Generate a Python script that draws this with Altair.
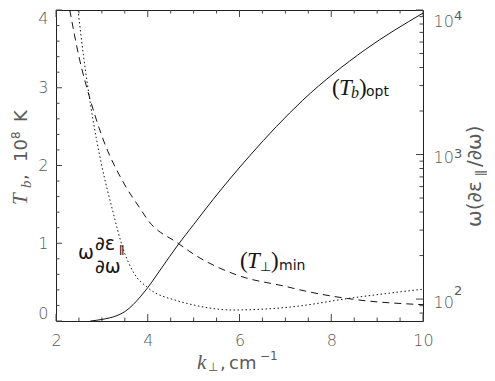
import altair as alt
import pandas as pd

# ---------------- data ----------------
# solid curve (T_b)_opt, left axis (10^8 K)
k_opt = [2.75, 3.0, 3.33, 3.5, 3.68, 3.85, 4.0, 4.3, 4.66, 5.0, 5.42, 6.23, 7.38, 8.74, 10.0]
t_opt = [0.0, 0.02, 0.07, 0.12, 0.21, 0.32, 0.43, 0.68, 0.98, 1.24, 1.56, 2.13, 2.84, 3.49, 3.96]

# dashed curve (T_perp)_min, left axis
k_perp = [2.3, 2.5, 2.75, 3.0, 3.5, 3.83, 4.0, 4.66, 5.0, 5.95, 7.04, 7.32, 8.47, 10.0]
t_perp = [4.0, 3.4, 2.84, 2.38, 1.75, 1.45, 1.30, 1.0, 0.86, 0.59, 0.44, 0.40, 0.28, 0.21]

# dotted curve omega * d eps_par / d omega, right (log) axis
k_eps = [2.48, 2.6, 2.76, 3.0, 3.22, 3.46, 3.7, 4.0, 4.66, 5.0, 5.86, 7.1, 8.47, 10.0]
eps = [10000, 4800, 2140, 830, 427, 224, 151, 120, 97, 91, 84, 88, 102, 117]

x_major = [2, 4, 6, 8, 10]
x_minor = [2.5, 3, 3.5, 4.5, 5, 5.5, 6.5, 7, 7.5, 8.5, 9, 9.5]
y_major = [0, 1, 2, 3, 4]
y_minor = [0.2, 0.4, 0.6, 0.8, 1.2, 1.4, 1.6, 1.8, 2.2, 2.4, 2.6, 2.8, 3.2, 3.4, 3.6, 3.8]
r_major = [100, 1000, 10000]
r_minor = [80, 90, 200, 300, 400, 500, 600, 700, 800, 900,
           2000, 3000, 4000, 5000, 6000, 7000, 8000, 9000]
r_exp = ["2", "3", "4"]

# ---------------- style ----------------
W, H = 367, 311
LINE = "#151515"
TICK = "#444444"
LAB = "#5a5a5a"
SANS = "DejaVu Sans"
SERIF = "Liberation Serif"
PAR = "ǁ"

x_scale = alt.Scale(domain=[2, 10], nice=False, zero=False)
yl_scale = alt.Scale(domain=[0, 4], nice=False, zero=False)
yr_scale = alt.Scale(type="log", domain=[70.5, 10000], nice=False)

x_axis = alt.Axis(values=x_major, ticks=False, domain=False, grid=False, title=None,
                  labelPadding=11, format="d", labelFlush=False)
yl_axis = alt.Axis(values=y_major, ticks=False, domain=False, grid=False, title=None,
                   labelPadding=8, labelFlush=True, format="d")
yr_axis = alt.Axis(orient="right", values=r_major, labelExpr="'10'", ticks=False,
                   domain=False, grid=False, title=None, labelPadding=10,
                   labelFlush=True, labelOffset=3)


def X(f):
    return alt.X(f"{f}:Q", scale=x_scale, axis=x_axis)


def YL(f):
    return alt.Y(f"{f}:Q", scale=yl_scale, axis=yl_axis)


def YR(f):
    return alt.Y(f"{f}:Q", scale=yr_scale, axis=yr_axis)


one = pd.DataFrame({"a": [0]})


def dtxt(x, y, s, size, font=SANS, style="normal", dx=0, dy=0, align="left",
         baseline="alphabetic"):
    df = pd.DataFrame({"x": [x], "y": [y]})
    return alt.Chart(df).mark_text(text=s, fontSize=size, font=font, fontStyle=style,
                                   dx=dx, dy=dy, align=align, baseline=baseline,
                                   color=LINE).encode(x=X("x"), y=YL("y"))


def ptxt(px, py, s, size, font=SANS, style="normal", angle=0, align="left",
         baseline="alphabetic", color=LAB):
    return alt.Chart(one).mark_text(text=s, fontSize=size, font=font, fontStyle=style,
                                    angle=angle, align=align, baseline=baseline,
                                    color=color).encode(x=alt.value(px), y=alt.value(py))


# ---------------- left-axis group ----------------
solid = alt.Chart(pd.DataFrame({"k": k_opt, "t": t_opt})).mark_line(
    color=LINE, strokeWidth=1, interpolate="monotone", clip=True
).encode(x=X("k"), y=YL("t"))

dashed = alt.Chart(pd.DataFrame({"k": k_perp, "t": t_perp})).mark_line(
    color=LINE, strokeWidth=1, strokeDash=[7, 5], interpolate="monotone", clip=True
).encode(x=X("k"), y=YL("t"))


def xticks(vals, ln, top):
    df = pd.DataFrame({"v": vals})
    if top:
        enc = dict(y=alt.value(0), y2=alt.value(ln))
    else:
        enc = dict(y=alt.value(H), y2=alt.value(H - ln))
    return alt.Chart(df).mark_rule(color=TICK, strokeWidth=1).encode(x=X("v"), **enc)


def ylticks(vals, ln):
    df = pd.DataFrame({"v": vals})
    return alt.Chart(df).mark_rule(color=TICK, strokeWidth=1).encode(
        y=YL("v"), x=alt.value(0), x2=alt.value(ln))


def yrticks(vals, ln):
    df = pd.DataFrame({"v": vals})
    return alt.Chart(df).mark_rule(color=TICK, strokeWidth=1).encode(
        y=YR("v"), x=alt.value(W), x2=alt.value(W - ln))


left_layers = [
    xticks(x_major, 7, False), xticks(x_minor, 3.5, False),
    xticks(x_major, 7, True), xticks(x_minor, 3.5, True),
    ylticks(y_major, 6), ylticks(y_minor, 3.5),
    solid, dashed,
    # (T_b)_opt label
    dtxt(8.016, 2.907, "(", 23, SERIF),
    dtxt(8.016, 2.907, "T", 23, SERIF, "italic", dx=7),
    dtxt(8.016, 2.907, "b", 16, SERIF, "italic", dx=19, dy=3),
    dtxt(8.016, 2.907, ")", 23, SERIF, dx=27),
    dtxt(8.016, 2.907, "opt", 14, SANS, dx=34, dy=1),
    # (T_perp)_min label
    dtxt(6.011, 0.682, "(", 23, SERIF),
    dtxt(6.011, 0.682, "T", 23, SERIF, "italic", dx=7),
    dtxt(6.011, 0.682, "⊥", 13, SANS, dx=20, dy=3),
    dtxt(6.011, 0.682, ")", 23, SERIF, dx=31),
    dtxt(6.011, 0.682, "min", 14, SANS, dx=39, dy=2),
    # omega d eps / d omega label
    dtxt(2.48, 0.797, "ω", 19, SANS),
    dtxt(2.85, 0.91, "∂ε", 19, SANS),
    dtxt(2.85, 0.91, PAR, 11, SANS, dx=24, dy=3),
    dtxt(2.85, 0.617, "∂ω", 19, SANS),
    # left axis title (rotated)
    ptxt(-29, 195, "T", 21, SERIF, "italic", angle=270),
    ptxt(-25, 178, "b", 15, SERIF, "italic", angle=270),
    ptxt(-29, 170, ",", 18, SANS, angle=270),
    ptxt(-29, 152, "10", 18, SANS, angle=270),
    ptxt(-36, 129, "8", 12, SANS, angle=270),
    ptxt(-29, 112, "K", 18, SANS, angle=270),
    # bottom axis title
    ptxt(141, 359, "k", 21, SERIF, "italic"),
    ptxt(152, 361, "⊥", 12, SANS),
    ptxt(164, 359, ",", 18, SANS),
    ptxt(173, 359, "cm", 18, SANS),
    ptxt(204, 350, "−1", 12, SANS),
    # right axis title (rotated)
    ptxt(W + 58, 217, "ω(∂ε", 20, SANS, angle=270),
    ptxt(W + 61, 166, PAR, 12, SANS, angle=270),
    ptxt(W + 58, 157, "/∂ω)", 20, SANS, angle=270),
]
left = alt.layer(*left_layers)

# ---------------- right-axis group ----------------
dotted = alt.Chart(pd.DataFrame({"k": k_eps, "e": eps})).mark_line(
    color=LINE, strokeWidth=1, strokeDash=[1.5, 2.5], interpolate="monotone", clip=True
).encode(x=X("k"), y=YR("e"))

exp_layers = []
exp_dy = [-4, 3, 10]
for v, e, d in zip(r_major, r_exp, exp_dy):
    exp_layers.append(
        alt.Chart(pd.DataFrame({"v": [v]})).mark_text(
            text=e, fontSize=13, font=SANS, color=LAB, align="left",
            baseline="alphabetic", dy=d
        ).encode(y=YR("v"), x=alt.value(W + 31))
    )

right = alt.layer(yrticks(r_major, 7), yrticks(r_minor, 3.5), dotted, *exp_layers)

chart = alt.layer(left, right).resolve_scale(y="independent").properties(
    width=W, height=H,
    autosize=alt.AutoSizeParams(type="none"),
    padding={"left": 48, "top": 2, "right": 64, "bottom": 52},
).configure_view(stroke="#222222", strokeWidth=1).configure_axis(
    labelFont=SANS, labelFontSize=16, labelColor=LAB, labelFontWeight=300
)

chart.save("out.html", embed_options={"renderer": "svg", "actions": False})
